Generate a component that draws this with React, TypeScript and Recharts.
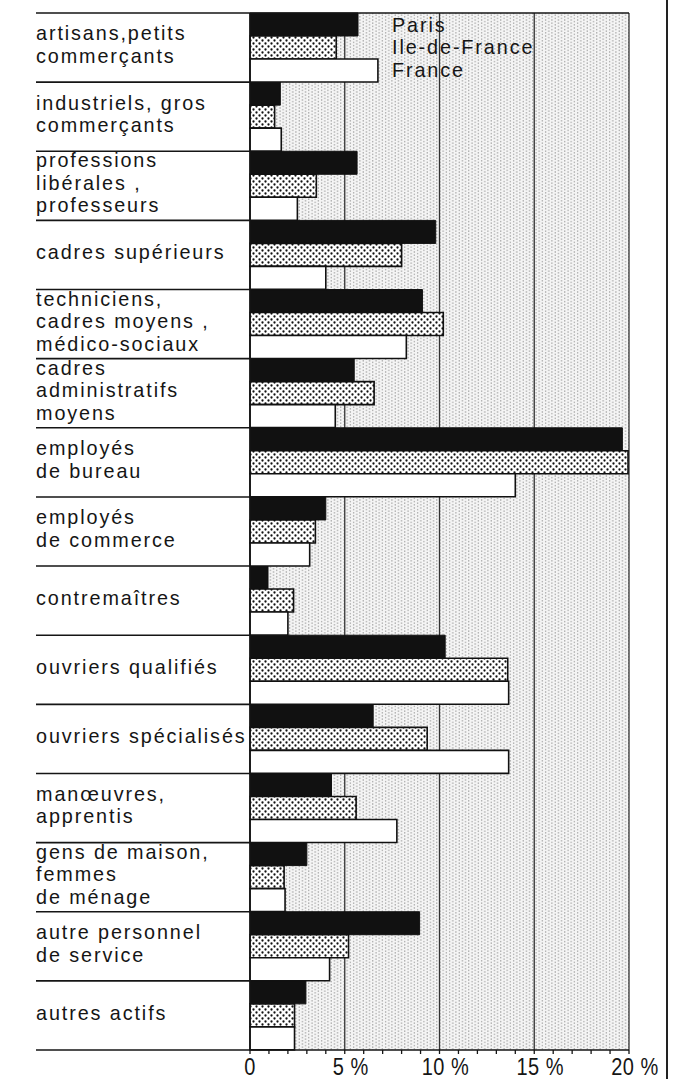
import { BarChart, Bar, XAxis, YAxis, CartesianGrid, Legend } from 'recharts'

const categories = [
  'artisans,petits\ncommerçants',
  'industriels, gros\ncommerçants',
  'professions\nlibérales ,\nprofesseurs',
  'cadres supérieurs',
  'techniciens,\ncadres moyens ,\nmédico-sociaux',
  'cadres\nadministratifs\nmoyens',
  'employés\nde bureau',
  'employés\nde commerce',
  'contremaîtres',
  'ouvriers qualifiés',
  'ouvriers spécialisés',
  'manœuvres,\napprentis',
  'gens de maison,\nfemmes\nde ménage',
  'autre personnel\nde service',
  'autres actifs',
]

const paris = [5.7, 1.6, 5.65, 9.8, 9.1, 5.5, 19.65, 4.0, 0.95, 10.3, 6.5, 4.3, 3.0, 8.95, 2.95]
const ileDeFrance = [4.55, 1.3, 3.5, 8.0, 10.2, 6.55, 19.95, 3.45, 2.3, 13.6, 9.35, 5.6, 1.8, 5.2, 2.35]
const france = [6.75, 1.65, 2.5, 4.0, 8.25, 4.5, 14.0, 3.15, 2.0, 13.65, 13.65, 7.75, 1.85, 4.2, 2.35]

const seriesKeys = ['paris', 'idf', 'france']
const seriesNames = ['Paris', 'Ile-de-France', 'France']
const allTicks = [0, 1, 2, 3, 4, 5, 6, 7, 8, 9, 10, 11, 12, 13, 14, 15, 16, 17, 18, 19, 20]
const majorTicks = [0, 5, 10, 15, 20]
const tickLabels = ['0', '5 %', '10 %', '15 %', '20 %']

const data = categories.map((cat, i) => ({
  cat,
  paris: paris[i],
  idf: ileDeFrance[i],
  france: france[i],
}))

// layout
const W = 687
const H = 1079
const AXIS_X = 250
const PLOT_RIGHT = 629
const LABEL_X = 36
const FONT = '"Liberation Sans", Arial, sans-serif'
const FS = 19.8
const LS = 1.9
const LH = 22.5
const XH = FS * 0.519
const INK = '#151515'

function CategoryTick(props: any) {
  const { y, payload, index } = props
  const half = payload.offset || 34.5
  const lines = String(payload.value).split('\n')
  const n = lines.length
  const firstBase = y - ((n - 1) / 2) * LH + XH / 2 - 1
  return (
    <g>
      {index === 0 && (
        <line x1={LABEL_X} x2={PLOT_RIGHT} y1={y - half} y2={y - half} stroke={INK} strokeWidth={1.6} />
      )}
      <line x1={LABEL_X} x2={AXIS_X} y1={y + half} y2={y + half} stroke={INK} strokeWidth={1.6} />
      <text x={LABEL_X} y={firstBase} fontFamily={FONT} fontSize={FS} letterSpacing={LS} fill={INK}>
        {lines.map((l, i) => (
          <tspan key={i} x={LABEL_X} y={firstBase + i * LH}>
            {l}
          </tspan>
        ))}
      </text>
    </g>
  )
}

function ValueTick(props: any) {
  const { x, y, payload } = props
  const i = majorTicks.indexOf(payload.value)
  if (i < 0) return <g />
  return (
    <text
      transform={`translate(${x + (i === 0 ? 0 : 6)} ${y + 19}) scale(1 1.2)`}
      textAnchor="middle"
      fontFamily={FONT}
      fontSize={20}
      letterSpacing={0.5}
      fill={INK}
    >
      {tickLabels[i]}
    </text>
  )
}

function LegendBox(props: any) {
  const items = [...(props.payload || [])].sort(
    (a: any, b: any) => seriesKeys.indexOf(a.dataKey) - seriesKeys.indexOf(b.dataKey)
  )
  return (
    <svg width={240} height={80} style={{ display: 'block', overflow: 'visible' }}>
      <text x={0} y={18.7} fontFamily={FONT} fontSize={FS} letterSpacing={LS} fill={INK}>
        {items.map((p: any, i: number) => (
          <tspan key={i} x={0} y={18.7 + i * 22.5}>
            {p.value}
          </tspan>
        ))}
      </text>
    </svg>
  )
}

export default function App() {
  return (
    <div style={{ position: 'absolute', left: 0, top: 0, width: W, height: H, background: '#fff', overflow: 'hidden' }}>
      <BarChart
        width={W}
        height={H}
        data={data}
        layout="vertical"
        margin={{ top: 13, right: W - PLOT_RIGHT, bottom: 0, left: 0 }}
        barCategoryGap={0}
        barGap={0}
      >
        <defs>
          <pattern id="bgDots" width={6.4} height={3.2} patternUnits="userSpaceOnUse">
            <rect width={6.4} height={3.2} fill="#f5f5f5" />
            <circle cx={1.6} cy={0.8} r={0.65} fill="#7a7a7a" />
            <circle cx={4.8} cy={2.4} r={0.65} fill="#7a7a7a" />
          </pattern>
          <pattern id="barDots" width={6} height={6} patternUnits="userSpaceOnUse">
            <rect width={6} height={6} fill="#fff" />
            <circle cx={1.5} cy={1.5} r={1.15} fill="#111" />
            <circle cx={4.5} cy={4.5} r={1.15} fill="#111" />
          </pattern>
        </defs>
        <CartesianGrid
          horizontal={false}
          verticalValues={[5, 10, 15, 20]}
          fill="url(#bgDots)"
          fillOpacity={1}
          stroke="#333"
          strokeWidth={1.3}
        />
        <XAxis
          type="number"
          domain={[0, 20]}
          ticks={allTicks}
          interval={0}
          height={H - 1050}
          tickSize={4}
          axisLine={{ stroke: INK, strokeWidth: 1.6 }}
          tickLine={{ stroke: INK, strokeWidth: 1.3 }}
          tick={<ValueTick />}
        />
        <YAxis
          type="category"
          dataKey="cat"
          width={AXIS_X}
          interval={0}
          tickLine={false}
          axisLine={{ stroke: INK, strokeWidth: 1.6 }}
          tick={<CategoryTick />}
        />
        <Legend
          layout="vertical"
          align="center"
          verticalAlign="middle"
          content={<LegendBox />}
          wrapperStyle={{ position: 'absolute', left: 392, top: 13, width: 240, height: 80 }}
        />
        <Bar dataKey="paris" name={seriesNames[0]} fill="#111" stroke="#111" strokeWidth={1} isAnimationActive={false} />
        <Bar dataKey="idf" name={seriesNames[1]} fill="url(#barDots)" stroke="#111" strokeWidth={1.6} isAnimationActive={false} />
        <Bar dataKey="france" name={seriesNames[2]} fill="#fff" stroke="#111" strokeWidth={1.6} isAnimationActive={false} />
      </BarChart>
      <div style={{ position: 'absolute', left: 666, top: 0, width: 2, height: H, background: '#222' }} />
    </div>
  )
}
